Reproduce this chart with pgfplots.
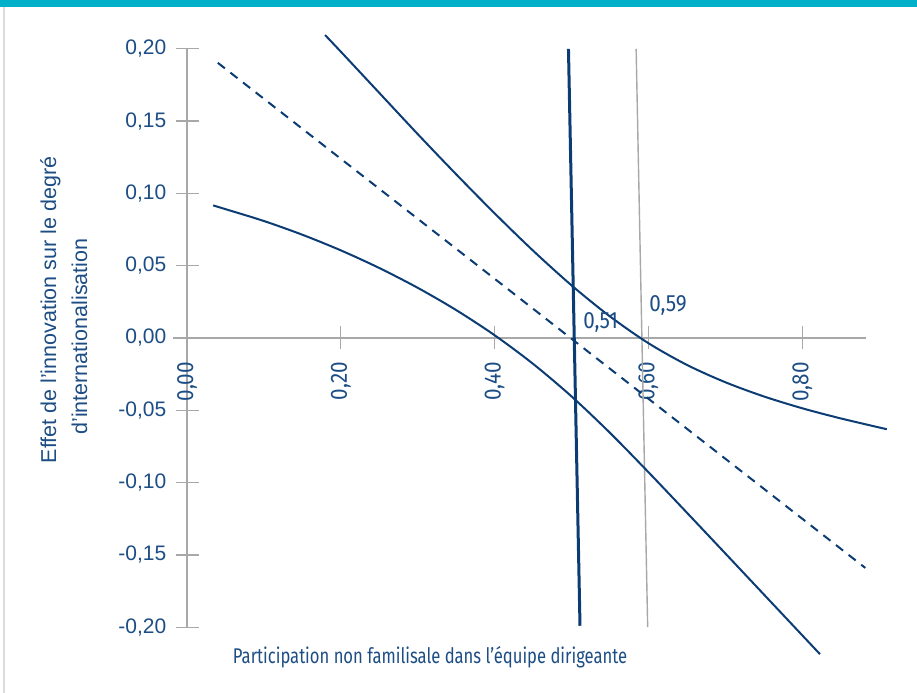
\documentclass[border=0pt]{standalone}
\usepackage{fontspec}
\setmainfont{Liberation Sans}
\newfontfamily\dindig{Fira Sans}[FakeStretch=0.88]
\newfontfamily\dintitle{Fira Sans}[FakeStretch=0.78]
\usepackage{pgfplots}
\pgfplotsset{compat=1.18}
\definecolor{bandteal}{HTML}{00AFC8}
\definecolor{lineblue}{HTML}{0B3C73}
\definecolor{textblue}{HTML}{1C4D84}
\definecolor{axisgrey}{HTML}{A8A8A8}
\definecolor{bordergrey}{HTML}{DCDCDC}
\begin{document}
\begin{tikzpicture}
\begin{axis}[
  x=769bp, y=1446bp,
  xmin=-0.018, xmax=0.883, ymin=-0.2, ymax=0.2,
  axis lines=middle,
  axis line style={draw=axisgrey, line width=1.3bp, -},
  clip=false,
  hide obscured x ticks=false, hide obscured y ticks=false,
  xtick={0,0.2,0.4,0.6,0.8},
  xticklabels={{0,00},{0,20},{0,40},{0,60},{0,80}},
  ytick={-0.2,-0.15,-0.1,-0.05,0,0.05,0.1,0.15,0.2},
  yticklabels={{-0,20},{-0,15},{-0,10},{-0,05},{0,00},{0,05},{0,10},{0,15},{0,20}},
  major tick length=23bp, tick align=center,
  tick style={draw=axisgrey, line width=1.3bp},
  xticklabel style={font=\dindig\fontsize{23.5bp}{26bp}\selectfont, text=textblue, rotate=90, anchor=east, inner sep=0pt, xshift=-12.5bp},
  yticklabel style={font=\fontsize{21bp}{25bp}\selectfont, text=textblue, anchor=east, inner sep=0pt, xshift=-9bp},
]
\coordinate (O) at (axis cs:-0.018,-0.2);
% reference vertical lines
\addplot[draw=axisgrey, line width=1.4bp] coordinates {(0.584,0.2) (0.599,-0.2)};
\addplot[draw=lineblue, line width=3bp] coordinates {(0.496,0.2) (0.511,-0.199)};
% dashed effect line
\addplot[draw=lineblue, line width=2bp, dash pattern=on 9bp off 7bp] coordinates {(0.040,0.1903) (0.882,-0.159)};
% upper confidence bound
\addplot[draw=lineblue, line width=2bp, smooth, tension=0.5] coordinates {
 (0.1795,0.2095) (0.20,0.1980) (0.25,0.1695) (0.30,0.1410) (0.35,0.1132)
 (0.40,0.0862) (0.45,0.0604) (0.50,0.0364) (0.55,0.0149) (0.60,-0.0036)
 (0.65,-0.0186) (0.70,-0.0306) (0.75,-0.0404) (0.80,-0.0486) (0.85,-0.0556)
 (0.91,-0.0631)};
% lower confidence bound
\addplot[draw=lineblue, line width=2bp, smooth, tension=0.5] coordinates {
 (0.034,0.0917) (0.05,0.0891) (0.10,0.0809) (0.15,0.0714) (0.20,0.0606)
 (0.25,0.0484) (0.30,0.0347) (0.35,0.0193) (0.40,0.0019) (0.45,-0.0179)
 (0.50,-0.0404) (0.55,-0.0656) (0.60,-0.0928) (0.65,-0.1208) (0.70,-0.1490)
 (0.75,-0.1773) (0.80,-0.2056) (0.823,-0.2186)};
\node[anchor=base west, inner sep=0pt, text=textblue, font=\dindig\fontsize{23.5bp}{26bp}\selectfont] at (axis cs:0.515,0.0069) {0,51};
\node[anchor=base west, inner sep=0pt, text=textblue, font=\dindig\fontsize{23.5bp}{26bp}\selectfont] at (axis cs:0.601,0.018) {0,59};
\node[anchor=base, inner sep=0pt, text=textblue, font=\dintitle\fontsize{21.3bp}{25bp}\selectfont] at (axis cs:0.316,-0.2248) {Participation non familisale dans l’équipe dirigeante};
\node[anchor=base, rotate=90, inner sep=0pt, text=textblue, font=\fontsize{21.5bp}{25bp}\selectfont] at (axis cs:-0.1703,0.0194) {Effet de l’innovation sur le degré};
\node[anchor=base, rotate=90, inner sep=0pt, text=textblue, font=\fontsize{21.5bp}{25bp}\selectfont] at (axis cs:-0.130,0.0010) {d’internationalisation};
\end{axis}
\fill[bandteal] (O) ++(-173.2bp,627.2bp) rectangle ++(917bp,-7.5bp);
\draw[bordergrey, line width=1.6bp] (O) ++(-169.3bp,619.7bp) -- ++(0,-700bp);
\pgfresetboundingbox
\path[use as bounding box] (O) ++(-173.2bp,-65.8bp) rectangle ++(917bp,693bp);
\end{tikzpicture}
\end{document}
